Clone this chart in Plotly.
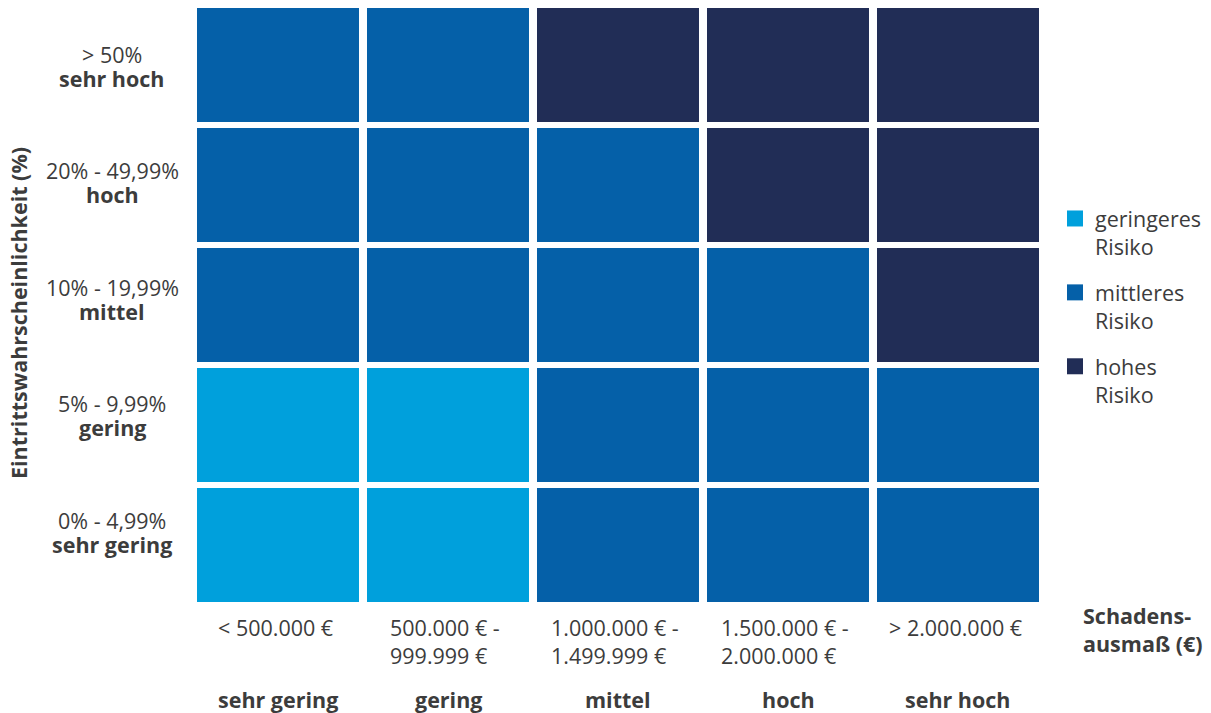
import plotly.graph_objects as go

# ---- data ----
impact_levels = ["sehr gering", "gering", "mittel", "hoch", "sehr hoch"]
impact_ranges = ["< 500.000 €", "500.000 € -<br>999.999 €", "1.000.000 € -<br>1.499.999 €",
                 "1.500.000 € -<br>2.000.000 €", "> 2.000.000 €"]
prob_levels = ["sehr gering", "gering", "mittel", "hoch", "sehr hoch"]   # bottom -> top
prob_ranges = ["0% - 4,99%", "5% - 9,99%", "10% - 19,99%", "20% - 49,99%", "> 50%"]
risk_names = ["geringeres<br>Risiko", "mittleres<br>Risiko", "hohes<br>Risiko"]
# 0 = geringeres, 1 = mittleres, 2 = hohes Risiko; rows bottom -> top
risk_matrix = [
    [0, 0, 1, 1, 1],
    [0, 0, 1, 1, 1],
    [1, 1, 1, 1, 2],
    [1, 1, 1, 2, 2],
    [1, 1, 2, 2, 2],
]
x_title = "Schadens-<br>ausmaß (€)"
y_title = "Eintrittswahrscheinlichkeit (%)"

# ---- style ----
colors = ["#00A0DC", "#0560A8", "#212D56"]
txt = "#3c3c3c"
font = "Open Sans"
fs = 21.5

W, H = 1211, 713
L, R, T, B = 193, 168, 5, 108
pw, ph = W - L - R, H - T - B
row_label_top, row_label_pitch, row_line_gap = 67, 116.5, 12


def px_x(p):
    return (p - L) / pw


def px_y(p):
    return (H - B - p) / ph


cs = [[0, colors[0]], [1 / 3, colors[0]], [1 / 3, colors[1]], [2 / 3, colors[1]],
      [2 / 3, colors[2]], [1, colors[2]]]

fig = go.Figure()
fig.add_trace(go.Heatmap(
    z=risk_matrix, x=impact_levels, y=prob_levels,
    zmin=-0.5, zmax=2.5, colorscale=cs, showscale=False,
    xgap=8, ygap=6, hoverinfo="skip",
))

for i, name in enumerate(risk_names):
    fig.add_trace(go.Scatter(
        x=[None], y=[None], mode="markers", name=name, legendgroup=str(i),
        marker=dict(symbol="square", size=18, color=colors[i]),
    ))

ann = []
n = len(prob_levels)
for k, (lvl, rng) in enumerate(zip(prob_levels, prob_ranges)):
    c = row_label_top + row_label_pitch * (n - 1 - k)
    ann.append(dict(x=px_x(112), xref="paper", y=px_y(c - row_line_gap - 1), yref="paper",
                    text=rng, showarrow=False, xanchor="center", yanchor="middle",
                    font=dict(family=font, size=fs, color=txt)))
    ann.append(dict(x=px_x(112), xref="paper", y=px_y(c + row_line_gap - 1), yref="paper",
                    text=f"<b>{lvl}</b>", showarrow=False, xanchor="center",
                    yanchor="middle", font=dict(family=font, size=fs, color=txt)))
for lvl, rng in zip(impact_levels, impact_ranges):
    ann.append(dict(x=lvl, xref="x", y=px_y(611), yref="paper", xshift=-3,
                    text=rng, showarrow=False, xanchor="center", yanchor="top",
                    align="left", font=dict(family=font, size=fs, color=txt)))
    ann.append(dict(x=lvl, xref="x", y=px_y(700), yref="paper",
                    text=f"<b>{lvl}</b>", showarrow=False, xanchor="center",
                    yanchor="middle", font=dict(family=font, size=fs, color=txt)))
ann.append(dict(x=px_x(1081), xref="paper", y=px_y(629), yref="paper",
                text=f"<b>{x_title}</b>", showarrow=False, xanchor="left",
                yanchor="middle", align="left",
                font=dict(family=font, size=fs, color=txt)))
ann.append(dict(x=px_x(18), xref="paper", y=px_y(313), yref="paper",
                text=f"<b>{y_title}</b>", showarrow=False, textangle=-90,
                xanchor="center", yanchor="middle",
                font=dict(family=font, size=fs, color=txt)))

fig.update_layout(
    width=W, height=H,
    margin=dict(l=L, r=R, t=T, b=B, pad=0),
    paper_bgcolor="white", plot_bgcolor="white",
    font=dict(family=font, size=fs, color=txt),
    xaxis=dict(showticklabels=False, showgrid=False, zeroline=False, ticks=""),
    yaxis=dict(showticklabels=False, showgrid=False, zeroline=False, ticks=""),
    showlegend=True,
    legend=dict(x=px_x(1055), xanchor="left", y=px_y(198), yanchor="top",
                font=dict(family=font, size=fs, color=txt),
                tracegroupgap=15, valign="top", bgcolor="rgba(0,0,0,0)",
                itemclick=False, itemdoubleclick=False),
    annotations=ann,
)

fig.write_html("out.html", config={"displayModeBar": False},
               post_script="document.body.style.margin='0';document.body.style.overflow='hidden';")
